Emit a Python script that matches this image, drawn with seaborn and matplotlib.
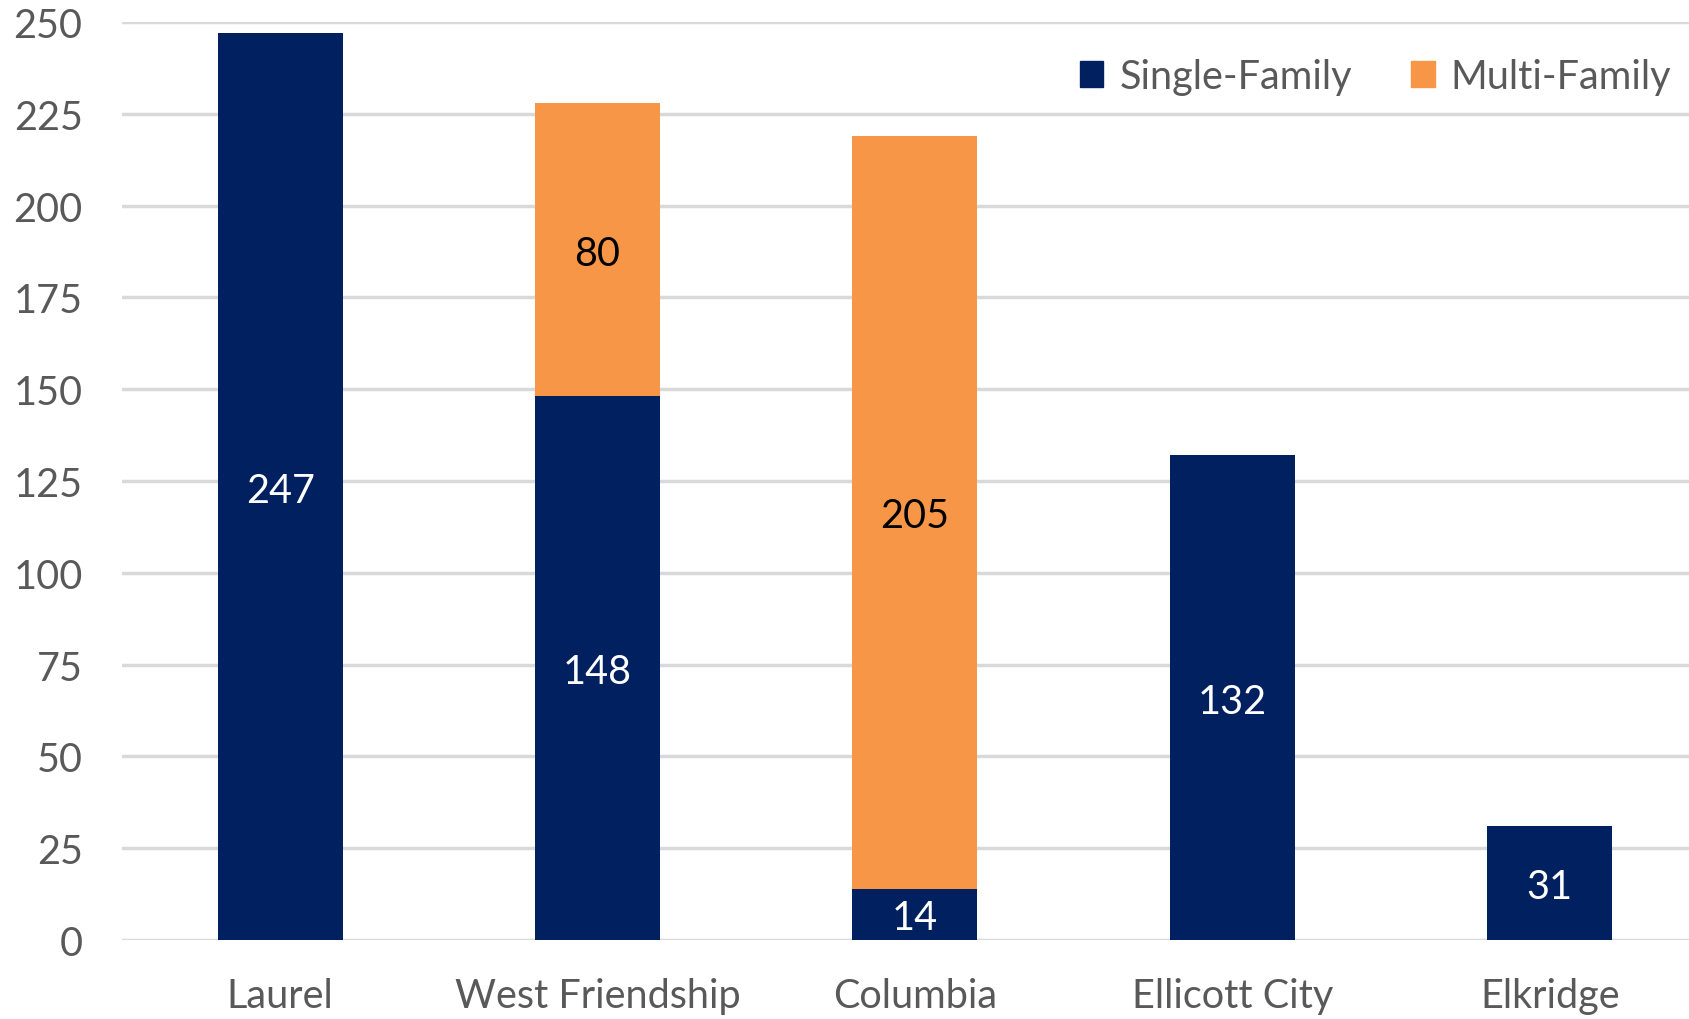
import matplotlib
matplotlib.use("Agg")
import matplotlib.pyplot as plt
import seaborn as sns
import pandas as pd
import numpy as np
from matplotlib.patches import Patch

categories = ["Laurel", "West Friendship", "Columbia", "Ellicott City", "Elkridge"]
single_family = [247, 148, 14, 132, 31]
multi_family = [0, 80, 205, 0, 0]
y_ticks = [0, 25, 50, 75, 100, 125, 150, 175, 200, 225, 250]

navy = "#002060"
orange = "#F79646"
grid_c = "#D9D9D9"
text_c = "#595959"

sns.set_theme(style="white")
plt.rcParams["font.family"] = ["Lato", "DejaVu Sans"]

df = pd.DataFrame({"Area": categories, "Single": single_family, "Multi": multi_family})
df["Total"] = df["Single"] + df["Multi"]

fig = plt.figure(figsize=(16.9, 10.2), dpi=100)
ax = fig.add_axes([0.0719, 0.0775, 0.939, 0.900])

for y in y_ticks:
    ax.axhline(y, color=grid_c, lw=2.5, zorder=0)

sns.barplot(data=df, x="Area", y="Total", color=orange, width=0.394, ax=ax,
            saturation=1, zorder=2, linewidth=0)
sns.barplot(data=df, x="Area", y="Single", color=navy, width=0.394, ax=ax,
            saturation=1, zorder=3, linewidth=0)

fs = 28.5
for i, (s, m) in enumerate(zip(single_family, multi_family)):
    ax.text(i, s / 2 - 1, str(s), ha="center", va="center", color="white", fontsize=fs, zorder=5)
    if m > 0:
        ax.text(i, s + m / 2 - 1, str(m), ha="center", va="center", color="black", fontsize=fs, zorder=5)

ax.set_xlim(-0.5, 4.5)
ax.set_ylim(0, 250)
ax.set_yticks(y_ticks)
ax.set_xlabel("")
ax.set_ylabel("")
for sp in ax.spines.values():
    sp.set_visible(False)
ax.tick_params(axis="y", length=0, pad=28, labelsize=fs, labelcolor=text_c)
ax.tick_params(axis="x", length=0, pad=27, labelsize=fs, labelcolor=text_c)

handles = [Patch(color=navy, label="Single-Family"), Patch(color=orange, label="Multi-Family")]
leg = fig.legend(handles=handles, loc="center right", bbox_to_anchor=(1.010, 0.924), ncol=2,
                 frameon=False, fontsize=fs, handlelength=0.6, handleheight=0.6,
                 handletextpad=0.4, columnspacing=1.5, labelcolor=text_c)

fig.savefig("out.png", dpi=100)
